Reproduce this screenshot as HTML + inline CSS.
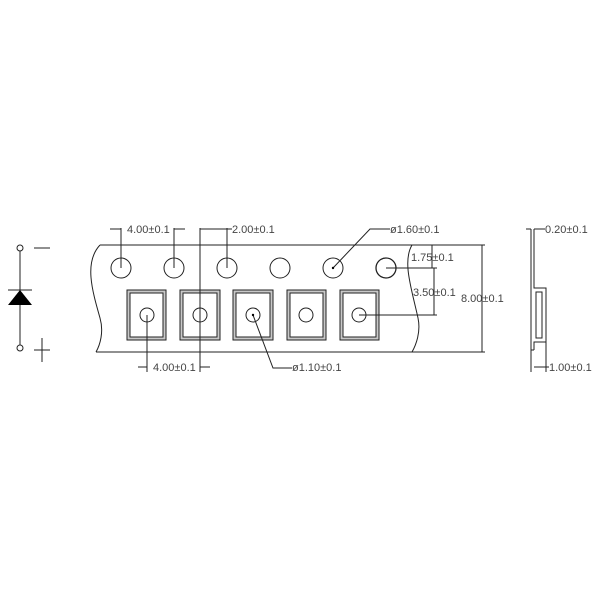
<!DOCTYPE html>
<html><head><style>body{margin:0;background:#fff}svg{display:block}text{font-family:"Liberation Sans",sans-serif;font-size:11px;fill:#444}</style></head>
<body>
<svg width="600" height="600" viewBox="0 0 600 600" xmlns="http://www.w3.org/2000/svg">
<g stroke="#222" stroke-width="1" fill="none">
<!-- tape -->
<path d="M100,245 L485,245"/>
<path d="M96,352 L412,352"/>
<path d="M100,245 C84,262 92,290 100,318 C104,332 100,345 96,352"/>
<path d="M412,245 C402,262 412,290 418,318 C421,332 416,345 412,352"/>
<!-- sprocket holes -->
<circle cx="121" cy="268" r="10"/><circle cx="174" cy="268" r="10"/><circle cx="227" cy="268" r="10"/>
<circle cx="280" cy="268" r="10"/><circle cx="333" cy="268" r="10"/><circle cx="386" cy="268" r="10" stroke-width="1.3"/>
<!-- pockets -->
<g fill="#c8c8c8">
<rect x="127" y="290" width="39" height="50"/><rect x="180" y="290" width="40" height="50"/><rect x="233" y="290" width="40" height="50"/>
<rect x="287" y="290" width="39" height="50"/><rect x="340" y="290" width="39" height="50"/>
</g>
<g fill="#fff">
<rect x="130" y="293" width="33" height="44"/><rect x="183" y="293" width="34" height="44"/><rect x="236" y="293" width="34" height="44"/>
<rect x="290" y="293" width="33" height="44"/><rect x="343" y="293" width="33" height="44"/>
</g>
<circle cx="147" cy="315" r="7"/><circle cx="200" cy="315" r="7"/><circle cx="253" cy="315" r="7"/>
<circle cx="306" cy="315" r="7"/><circle cx="359" cy="315" r="7"/>
<!-- dimensions -->
<path d="M121,228 V268 M174,228 V268 M110,229 H121 M174,229 H185"/>
<path d="M200,228 V372 M227,228 V268 M200,229 H232"/>
<path d="M147,315 V372 M138,367 H147 M200,367 H210"/>
<path d="M253,315 L273,368 H292"/>
<path d="M333,268 L370,229 H390"/>
<path d="M386,268 H437 M359,315 H437 M432,245 V268 M434,268 V315 M482,245 V352 M412,352 H485"/>
<!-- side view -->
<path d="M531,229 V350 M534,229 V288 L546,288 V342 L534,342 V350 M531,350 H534"/>
<path d="M536,292 H542 V338 H536 Z"/>
<path d="M526,229 H531 M534,229 H545 M534,367 H549 M531,350 V372 M546,342 V372"/>
<!-- diode -->
<path d="M20,251 V345 M8,290 H32 M34,248 H50 M34,350 H50 M42,338 V362"/>
<circle cx="20" cy="248" r="3"/><circle cx="20" cy="348" r="3"/>
</g>
<polygon points="8,305 32,305 20,290" fill="#000"/>
<circle cx="333" cy="268" r="1.2" fill="#000"/><circle cx="253" cy="315" r="1.2" fill="#000"/>
<text x="127" y="233">4.00±0.1</text>
<text x="232" y="233">2.00±0.1</text>
<text x="153" y="371">4.00±0.1</text>
<text x="292" y="371">ø1.10±0.1</text>
<text x="390" y="233">ø1.60±0.1</text>
<text x="411" y="261">1.75±0.1</text>
<text x="413" y="296">3.50±0.1</text>
<text x="461" y="302">8.00±0.1</text>
<text x="545" y="233">0.20±0.1</text>
<text x="549" y="371">1.00±0.1</text>
</svg>
</body></html>
